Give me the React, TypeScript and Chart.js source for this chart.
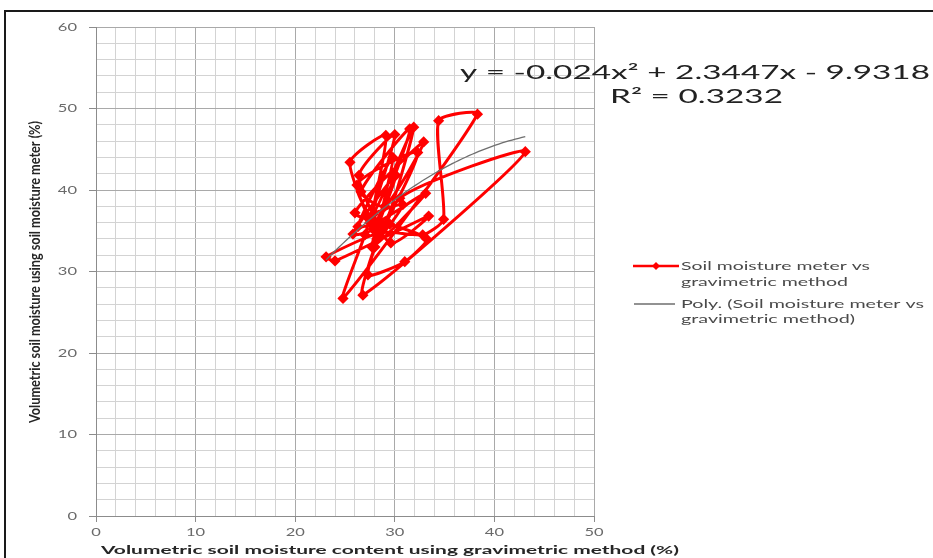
import React, { useEffect, useRef } from "react";
import { Chart, registerables } from "chart.js";

Chart.register(...registerables);

// ---------- data ----------
const meterX = [
  27.5, 25.5, 29.1, 27.8, 31.9, 28.8, 26.4, 30.0, 27.0, 24.8, 38.3, 34.4,
  34.9, 32.8, 28.6, 23.1, 24.0, 33.4, 29.6, 26.2, 32.3, 28.0, 26.8, 43.1,
  30.5, 27.3, 31.0, 33.2, 29.5, 26.0, 32.9, 29.0, 26.6, 31.5, 27.8, 25.8,
  30.1, 27.7, 33.1, 28.5, 26.3, 29.8, 28.2, 30.8, 27.1,
];
const meterY = [
  36.0, 43.4, 46.7, 37.0, 47.7, 35.5, 41.8, 46.8, 34.5, 26.7, 49.3, 48.5,
  36.4, 34.5, 34.8, 31.8, 31.3, 36.8, 33.5, 40.6, 44.6, 33.0, 27.1, 44.7,
  39.0, 29.6, 31.2, 34.0, 35.8, 37.2, 45.9, 38.0, 39.8, 47.5, 35.2, 34.6,
  41.8, 33.0, 39.6, 36.2, 35.5, 44.0, 34.0, 38.2, 36.8,
];
// polynomial trendline coefficients: y = c0 + c1 x + c2 x^2
const polyCoef = [-9.9318, 2.3447, -0.024];
const xTickLabels = [0, 10, 20, 30, 40, 50];
const yTickLabels = [0, 10, 20, 30, 40, 50, 60];
const equationText = "y = -0.024x\u00B2 + 2.3447x - 9.9318";
const r2Text = "R\u00B2 = 0.3232";
const seriesLegend = ["Soil moisture meter vs", "gravimetric method"];
const trendLegend = ["Poly. (Soil moisture meter vs", "gravimetric method)"];
const xTitle = "Volumetric soil moisture content using gravimetric method (%)";
const yTitle = "Volumetric soil moisture using soil moisture meter (%)";

const FONT = "Lato, 'Open Sans', 'DejaVu Sans', sans-serif";
const RED = "#ff0000";
const TREND = "#6e6e6e";

type TextOpts = {
  size: number;
  weight?: string;
  color: string;
  sx?: number;
  sy?: number;
  width?: number;
  align?: "left" | "center" | "right";
  rotate?: number;
};

function drawText(
  ctx: CanvasRenderingContext2D,
  text: string,
  x: number,
  y: number,
  o: TextOpts
) {
  ctx.save();
  ctx.font = `${o.weight || "normal"} ${o.size}px ${FONT}`;
  ctx.fillStyle = o.color;
  ctx.textBaseline = "middle";
  ctx.textAlign = "left";
  const w = ctx.measureText(text).width;
  const s = o.width ? o.width / w : o.sx || 1;
  ctx.translate(x, y);
  if (o.rotate) ctx.rotate(o.rotate);
  ctx.scale(s, o.sy || 1);
  const align = o.align || "left";
  const ox = align === "left" ? 0 : align === "center" ? -w / 2 : -w;
  ctx.fillText(text, ox, 0);
  ctx.restore();
}

const overlayPlugin = {
  id: "overlayText",
  afterDraw(chart: any) {
    const ctx: CanvasRenderingContext2D = chart.ctx;
    const area = chart.chartArea;
    const xs = chart.scales.x;
    const ys = chart.scales.y;
    const tickColor = "#6a6a6a";

    xTickLabels.forEach((v) => {
      drawText(ctx, String(v), xs.getPixelForValue(v), area.bottom + 16, {
        size: 11,
        color: tickColor,
        sx: 1.5,
        align: "center",
      });
    });
    yTickLabels.forEach((v) => {
      drawText(ctx, String(v), area.left - 19, ys.getPixelForValue(v), {
        size: 11,
        color: tickColor,
        sx: 1.5,
        align: "right",
      });
    });

    // axis titles
    drawText(ctx, xTitle, 101, 550, {
      size: 12,
      weight: "bold",
      color: "#262626",
      width: 578,
    });
    drawText(ctx, yTitle, 35, (121 + 423) / 2, {
      size: 11,
      weight: "bold",
      color: "#262626",
      width: 302,
      sy: 1.3,
      align: "center",
      rotate: -Math.PI / 2,
    });

    // trendline equation
    drawText(ctx, equationText, 460, 73, {
      size: 19,
      color: "#222222",
      width: 470,
    });
    drawText(ctx, r2Text, 610, 97, {
      size: 19,
      color: "#222222",
      width: 173,
    });

    // legend
    const lx0 = 633;
    const lx1 = 679;
    const ly1 = 266;
    const ly2 = 304;
    ctx.save();
    ctx.strokeStyle = RED;
    ctx.lineWidth = 2.5;
    ctx.beginPath();
    ctx.moveTo(lx0, ly1);
    ctx.lineTo(lx1, ly1);
    ctx.stroke();
    ctx.fillStyle = RED;
    ctx.beginPath();
    const mx = (lx0 + lx1) / 2;
    ctx.moveTo(mx, ly1 - 4);
    ctx.lineTo(mx + 4, ly1);
    ctx.lineTo(mx, ly1 + 4);
    ctx.lineTo(mx - 4, ly1);
    ctx.closePath();
    ctx.fill();
    ctx.strokeStyle = TREND;
    ctx.lineWidth = 1.3;
    ctx.beginPath();
    ctx.moveTo(lx0 + 1, ly2);
    ctx.lineTo(lx1 - 4, ly2);
    ctx.stroke();
    ctx.restore();

    const legColor = "#4a4a4a";
    drawText(ctx, seriesLegend[0], 681, ly1, { size: 11, color: legColor, width: 189 });
    drawText(ctx, seriesLegend[1], 681, ly1 + 16, { size: 11, color: legColor, width: 167 });
    drawText(ctx, trendLegend[0], 681, ly2, { size: 11, color: legColor, width: 243 });
    drawText(ctx, trendLegend[1], 681, ly2 + 15, { size: 11, color: legColor, width: 174 });
  },
};

export default function App() {
  const ref = useRef<HTMLCanvasElement | null>(null);

  useEffect(() => {
    if (!ref.current) return;
    const pts = meterX.map((x, i) => ({ x, y: meterY[i] }));
    const minX = Math.min(...meterX);
    const maxX = Math.max(...meterX);
    const trend: { x: number; y: number }[] = [];
    const n = 60;
    for (let i = 0; i <= n; i++) {
      const x = minX + ((maxX - minX) * i) / n;
      trend.push({ x, y: polyCoef[0] + polyCoef[1] * x + polyCoef[2] * x * x });
    }

    const gridColor = (c: any) =>
      c.tick && c.tick.value % 10 === 0 ? "#a9a9a9" : "#d3d3d3";
    const tickMarkColor = (c: any) =>
      c.tick && c.tick.value % 10 === 0 ? "#8c8c8c" : "rgba(0,0,0,0)";

    const chart = new Chart(ref.current, {
      type: "scatter",
      data: {
        datasets: [
          {
            label: "Poly",
            data: trend,
            showLine: true,
            borderColor: TREND,
            borderWidth: 1.3,
            pointRadius: 0,
            tension: 0,
            order: 0,
          },
          {
            label: "Soil moisture meter vs gravimetric method",
            data: pts,
            showLine: true,
            borderColor: RED,
            backgroundColor: RED,
            borderWidth: 3,
            pointStyle: "rectRot",
            pointRadius: 3.5,
            pointBorderColor: RED,
            pointBackgroundColor: RED,
            tension: 0.2,
            order: 1,
          },
        ],
      },
      options: {
        animation: false,
        responsive: false,
        devicePixelRatio: 1,
        layout: { padding: { left: 0, right: 339, top: 27, bottom: 0 } },
        plugins: {
          legend: { display: false },
          tooltip: { enabled: false },
          title: { display: false },
        },
        scales: {
          x: {
            type: "linear",
            min: 0,
            max: 50,
            ticks: { stepSize: 2, display: false },
            grid: {
              color: gridColor,
              tickColor: tickMarkColor,
              tickLength: 6,
              lineWidth: 1,
            },
            border: { color: "#8c8c8c", width: 1 },
            afterFit: (s: any) => {
              s.height = 42;
            },
          },
          y: {
            type: "linear",
            min: 0,
            max: 60,
            ticks: { stepSize: 2, display: false },
            grid: {
              color: gridColor,
              tickColor: tickMarkColor,
              tickLength: 7,
              lineWidth: 1,
            },
            border: { color: "#8c8c8c", width: 1 },
            afterFit: (s: any) => {
              s.width = 96;
            },
          },
        },
      },
      plugins: [overlayPlugin],
    } as any);

    return () => chart.destroy();
  }, []);

  return (
    <div
      style={{
        position: "fixed",
        left: 0,
        top: 0,
        width: 933,
        height: 558,
        overflow: "hidden",
        background: "#ffffff",
      }}
    >
      <div
        style={{
          position: "absolute",
          left: 4,
          top: 10,
          width: 960,
          height: 600,
          border: "2px solid #1a1a1a",
          boxSizing: "border-box",
        }}
      />
      <canvas
        ref={ref}
        width={933}
        height={558}
        style={{ position: "absolute", left: 0, top: 0, width: 933, height: 558 }}
      />
    </div>
  );
}
